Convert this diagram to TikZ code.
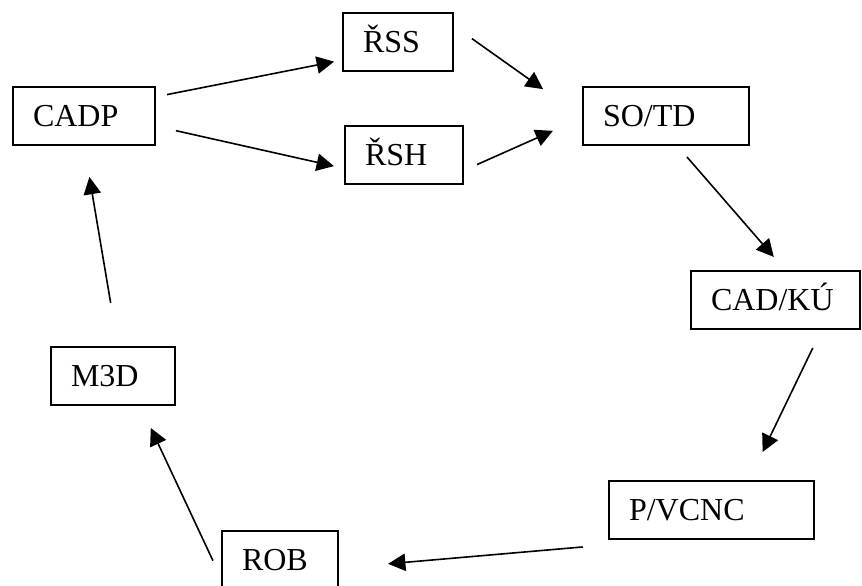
\documentclass[tikz,border=0pt]{standalone}
\usepackage{fontspec}
\setmainfont{Liberation Serif}
\usetikzlibrary{arrows.meta}

\begin{document}
\begin{tikzpicture}[
    x=0.75pt, y=-0.75pt,
    blok/.style={rectangle, draw=black, line width=1.5pt, anchor=north west, align=left,
        font=\fontsize{24pt}{28pt}\selectfont, text height=15.9pt, text depth=0pt,
        inner xsep=15pt, inner ysep=0pt, minimum height=43.5pt, outer sep=0pt},
    sipka/.style={-{Triangle[length=13pt,width=13pt]}, line width=1.2pt},
]
\useasboundingbox (0,0) rectangle (862,585);
\clip (0,0) rectangle (862,585);

\node (cadp) [blok, text width=76.5pt] at (13,87) {CADP};
\node (rss) [blok, text width=52.5pt] at (343,13) {ŘSS};
\node (rsh) [blok, text width=58.5pt] at (345,126) {ŘSH};
\node (sotd) [blok, text width=94.5pt] at (583,87) {SO/TD};
\node (cadku) [blok, text width=96.75pt] at (691,271) {CAD/KÚ};
\node (pvcnc) [blok, text width=123.75pt] at (609,481) {P/VCNC};
\node (rob) [blok, text width=57pt] at (222,531) {ROB};
\node (mtrid) [blok, text width=63pt] at (51,347) {M3D};

\draw [sipka, shorten <=9.2pt, shorten >=6.9pt] (cadp.15) -- (rss.198);
\draw [sipka, shorten <=16.1pt, shorten >=8.5pt] (cadp.352) -- (rsh.193);
\draw [sipka, shorten <=17.4pt, shorten >=36.7pt] (rss.17) -- (sotd.181);
\draw [sipka, shorten <=11.5pt, shorten >=24.7pt] (rsh.345) -- (sotd.181);
\draw [sipka, shorten <=11.9pt, shorten >=14pt] (sotd.290) -- (cadku.70);
\draw [sipka, shorten <=15.8pt, shorten >=24.2pt] (cadku.328) -- (pvcnc.38);
\draw [sipka, shorten <=69pt, shorten >=37.7pt] (pvcnc.218) -- (rob.352);
\draw [sipka, shorten <=16pt, shorten >=19pt] (rob.199) -- (mtrid.313);
\draw [sipka, shorten <=33.5pt, shorten >=24.3pt] (mtrid.80) -- (cadp.south);

\end{tikzpicture}
\end{document}
